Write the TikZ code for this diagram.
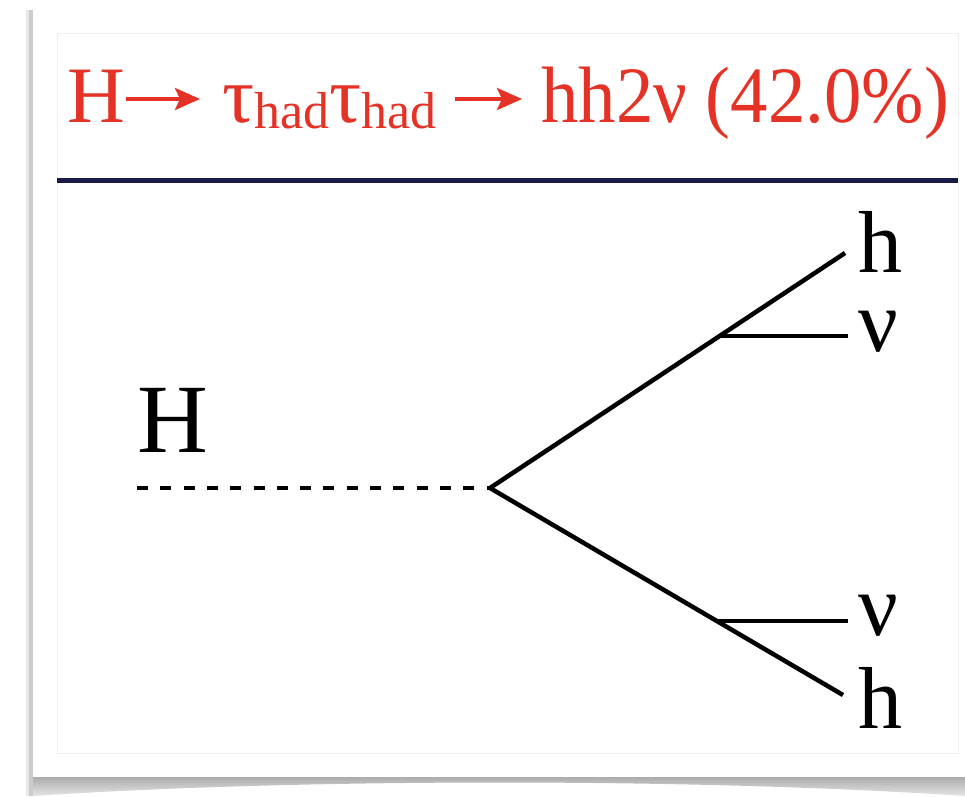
\documentclass[tikz,border=0pt]{standalone}
\usepackage{graphicx}
\usepackage{fontspec}
\setmainfont{Liberation Serif}
\usetikzlibrary{arrows.meta}
\definecolor{titlered}{RGB}{228,50,38}
\definecolor{rulenavy}{RGB}{26,26,70}
% lowered subscript for the heading
\newcommand{\lowsub}[1]{\raisebox{-6pt}{\fontsize{52}{52}\selectfont #1}}
\tikzset{
  particle/.style={line width=4.5pt, black, line cap=butt},
  scalar/.style={line width=4.4pt, black, dash pattern=on 11pt off 12.3pt},
  lab/.style={anchor=base west, inner sep=0pt, text depth=0pt,
              font=\fontsize{88}{88}\selectfont},
  headtext/.style={anchor=base west, inner sep=0pt, text=titlered,
                   font=\fontsize{80}{80}\selectfont},
  headarrow/.style={titlered, line width=3.8pt,
                    -{Stealth[length=25pt, width=22pt, inset=5pt]}},
}
\begin{document}
\begin{tikzpicture}[x=1pt, y=-1pt]
\useasboundingbox (0,0) rectangle (965,796);
% page backdrop and card
\fill[white] (0,0) rectangle (965,796);
\fill[gray!40] (29,10) rectangle (33,796);
\fill[gray!18] (26,10) rectangle (29,796);
\shade[top color=gray!65, bottom color=gray!20]
  (33,777) -- (965,777) -- (965,796)
  .. controls (700,778) and (300,778) .. (33,796) -- cycle;
\fill[white] (33,10) rectangle (965,777);
\draw[gray!12, line width=1pt] (57,33) rectangle (958,753);
% heading
\node[headtext] (tH) at (67,122) {H};
\node[headtext] (tTau) at (222,122) {τ\lowsub{had}τ\lowsub{had}};
\node[headtext] (tRest) at (541,122) {\scalebox{0.935}[1]{hh2ν (42.0\%)}};
\draw[headarrow] ([xshift=1pt, yshift=23pt]tH.base east) -- ([xshift=-22pt, yshift=23pt]tTau.base west);
\draw[headarrow] ([xshift=18pt, yshift=23pt]tTau.base east) -- ([xshift=-19pt, yshift=23pt]tRest.base west);
\draw[rulenavy, line width=5pt] (57,180) -- (958,180);
% diagram
\node[lab, font=\fontsize{98}{98}\selectfont] (Hlab) at (137,452) {H};
\coordinate (hin) at (137,488);
\coordinate (vtx) at (490,488);
\coordinate (up) at (845,253);
\coordinate (dn) at (843,695);
\coordinate (bu) at (720,336);
\coordinate (bd) at (718,621);
\coordinate (nuend1) at (848,336);
\coordinate (nuend2) at (848,621);
\node[lab] (h1) at (858,272) {h};
\node[lab] (nu1) at (858,351) {ν};
\node[lab] (nu2) at (858,635) {ν};
\node[lab] (h2) at (858,728) {h};
\draw[scalar] (hin) -- (vtx);
\draw[particle] (vtx) -- (up);
\draw[particle] (vtx) -- (dn);
\draw[particle] (bu) -- (nuend1);
\draw[particle] (bd) -- (nuend2);
\end{tikzpicture}
\end{document}
